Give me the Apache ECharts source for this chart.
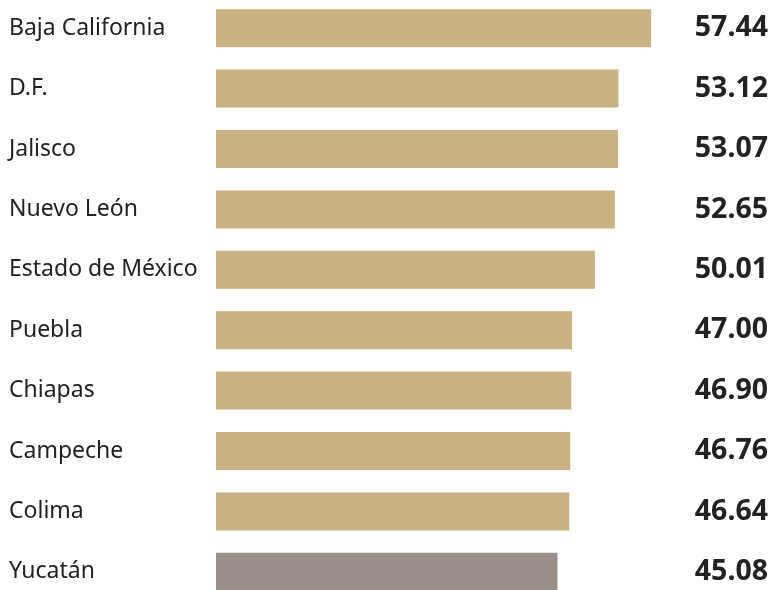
<!DOCTYPE html>
<html><head><meta charset="utf-8">
<script src="https://cdn.jsdelivr.net/npm/echarts@6/dist/echarts.min.js"></script>
<style>html,body{margin:0;padding:0;background:#fff}#c{width:770px;height:590px}</style>
</head><body><div id="c"></div>
<script>
const categories = ["Baja California","D.F.","Jalisco","Nuevo León","Estado de México","Puebla","Chiapas","Campeche","Colima","Yucatán"];
const values = [57.44,53.12,53.07,52.65,50.01,47.00,46.90,46.76,46.64,45.08];
const valueLabels = ["57.44","53.12","53.07","52.65","50.01","47.00","46.90","46.76","46.64","45.08"];
const highlight = "Yucatán";

const chart = echarts.init(document.getElementById('c'));
chart.setOption({
  animation:false,
  grid:{left:216,width:550,top:-2,height:604,outerBoundsMode:'none',containLabel:false},
  xAxis:{type:'value',min:0,max:72.6,show:false},
  yAxis:[{
    type:'category',data:categories,inverse:true,
    axisLine:{show:false},axisTick:{show:false},
    axisLabel:{align:'left',margin:207,color:'#222',fontFamily:'Noto Sans',fontSize:23,padding:[3,0,0,0]}
  },{
    type:'category',data:valueLabels,inverse:true,position:'right',
    axisLine:{show:false},axisTick:{show:false},
    axisLabel:{align:'right',margin:2,color:'#222',fontFamily:'Noto Sans',fontWeight:'bold',fontSize:28.5}
  }],
  series:[{
    type:'bar',barWidth:38,
    data:values.map((v,i)=>({value:v,itemStyle:{color:categories[i]===highlight?'#9A908A':'#CAB283'}}))
  }]
});
</script></body></html>
